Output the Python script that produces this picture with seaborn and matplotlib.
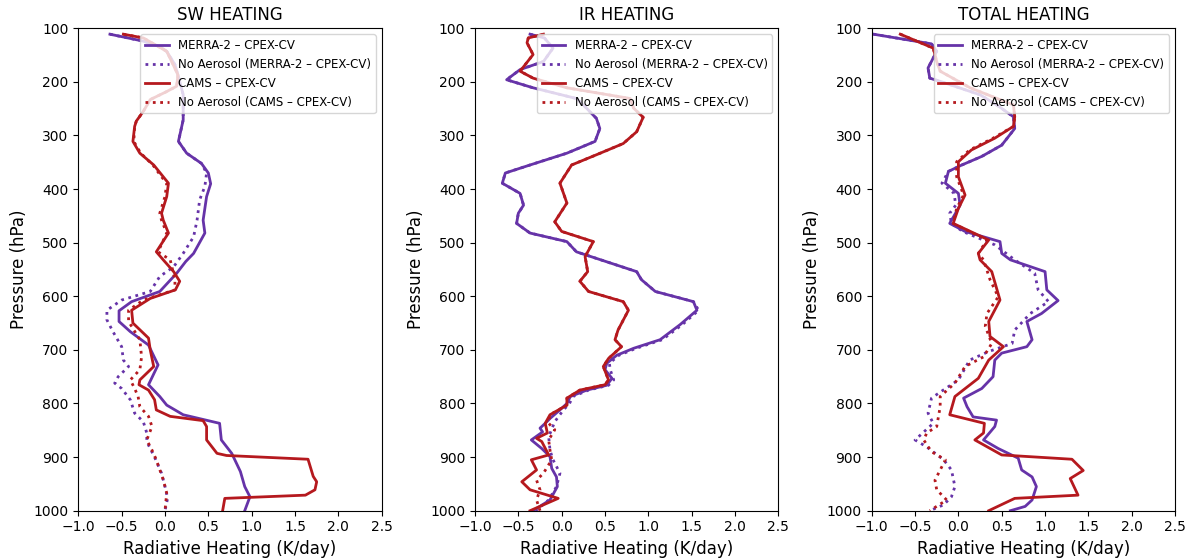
import matplotlib
matplotlib.use("Agg")
import matplotlib.pyplot as plt
import seaborn as sns
import numpy as np

# ---------------- DATA ----------------
titles = ["SW HEATING", "IR HEATING", "TOTAL HEATING"]
labels = ["MERRA-2 \u2013 CPEX-CV", "No Aerosol (MERRA-2 \u2013 CPEX-CV)",
          "CAMS \u2013 CPEX-CV", "No Aerosol (CAMS \u2013 CPEX-CV)"]
x_ticks = [-1.0, -0.5, 0.0, 0.5, 1.0, 1.5, 2.0, 2.5]
y_ticks = [100, 200, 300, 400, 500, 600, 700, 800, 900, 1000]

# SW heating
sw_merra_p = [111, 124, 134, 143, 168, 199, 224, 271, 311, 333, 352, 370, 390, 414, 458, 482, 520, 535, 557, 591,
              610, 627, 647, 666, 691, 728, 765, 787, 803, 821, 837, 868, 893, 927, 955, 974, 1000]
sw_merra_v = [-0.635, -0.25, -0.06, 0.02, 0.115, 0.17, 0.21, 0.21, 0.155, 0.25, 0.42, 0.5, 0.527, 0.48, 0.44, 0.46, 0.33, 0.24, 0.135, -0.06,
              -0.385, -0.53, -0.53, -0.40, -0.19, -0.08, -0.19, -0.06, 0.02, 0.21, 0.63, 0.65, 0.77, 0.87, 0.92, 0.98, 0.92]
sw_merra_na_p = [111, 124, 134, 143, 168, 199, 224, 271, 311, 333, 352, 370, 395, 420, 458, 489, 520, 545, 563, 591,
                 607, 626, 644, 666, 694, 719, 731, 750, 762, 772, 793, 818, 834, 855, 871, 902, 930, 955, 977, 1000]
sw_merra_na_v = [-0.635, -0.25, -0.06, 0.02, 0.115, 0.17, 0.21, 0.21, 0.155, 0.25, 0.42, 0.48, 0.46, 0.40, 0.37, 0.33, 0.21, 0.10, -0.06, -0.17,
                 -0.50, -0.67, -0.67, -0.60, -0.50, -0.48, -0.42, -0.54, -0.58, -0.50, -0.40, -0.35, -0.25, -0.21, -0.21, -0.115, -0.04, 0.0, 0.03, 0.0]
sw_cams_p = [111, 118, 143, 162, 187, 208, 218, 233, 255, 273, 283, 311, 333, 355, 377, 389, 414, 445, 458, 482,
             517, 532, 554, 572, 588, 604, 626, 650, 678, 700, 731, 756, 765, 775, 793, 812, 824, 832, 843, 868,
             893, 897, 904, 936, 946, 961, 971, 977, 1000]
sw_cams_v = [-0.48, -0.25, 0.02, 0.077, 0.15, 0.135, 0.02, -0.17, -0.25, -0.33, -0.35, -0.37, -0.29, -0.13, -0.02, 0.04, 0.02, -0.04, -0.02, 0.04,
             -0.10, -0.02, 0.10, 0.17, 0.12, -0.17, -0.385, -0.37, -0.19, -0.17, -0.13, -0.29, -0.30, -0.19, -0.12, -0.10, 0.06, 0.44, 0.48, 0.48,
             0.60, 0.71, 1.65, 1.71, 1.75, 1.73, 1.62, 0.69, 0.665]
sw_cams_na_p = [111, 118, 143, 162, 187, 208, 218, 233, 255, 273, 283, 311, 333, 355, 377, 389, 414, 445, 458, 482,
                517, 532, 569, 588, 607, 626, 647, 681, 713, 737, 756, 772, 787, 806, 824, 843, 868, 887, 905, 942, 967, 1000]
sw_cams_na_v = [-0.48, -0.25, 0.02, 0.077, 0.15, 0.135, 0.02, -0.17, -0.25, -0.33, -0.35, -0.36, -0.28, -0.14, -0.04, 0.02, 0.0, -0.06, -0.04, 0.02,
                -0.08, 0.06, 0.115, 0.115, -0.25, -0.42, -0.42, -0.29, -0.27, -0.29, -0.40, -0.35, -0.31, -0.29, -0.19, -0.15, -0.21, -0.15, -0.10, -0.02, 0.02, 0.0]

# IR heating
ir_merra_p = [111, 118, 137, 162, 177, 196, 211, 231, 243, 268, 287, 311, 333, 355, 370, 389, 408, 430, 445, 464,
              482, 498, 517, 554, 569, 591, 610, 626, 653, 681, 697, 710, 725, 737, 753, 766, 775, 787, 800, 812,
              828, 837, 846, 853, 868, 884, 899, 921, 937, 955, 980, 1000]
ir_merra_v = [-0.365, -0.2, -0.1, -0.21, -0.48, -0.635, -0.33, 0.17, 0.25, 0.40, 0.44, 0.385, 0.06, -0.365, -0.65, -0.685, -0.48, -0.44, -0.50, -0.52,
              -0.365, 0.06, 0.17, 0.865, 0.92, 1.08, 1.52, 1.56, 1.365, 1.135, 0.83, 0.635, 0.52, 0.50, 0.58, 0.52, 0.29, 0.10, 0.06, -0.02,
              -0.135, -0.19, -0.25, -0.22, -0.35, -0.23, -0.135, -0.115, -0.06, -0.05, -0.135, -0.33]
ir_merra_na_p = [111, 118, 137, 162, 177, 196, 211, 231, 243, 268, 287, 311, 333, 355, 370, 389, 408, 430, 445, 464,
                 482, 498, 517, 554, 569, 591, 610, 626, 653, 681, 697, 710, 725, 737, 756, 766, 775, 787, 800, 812,
                 834, 862, 887, 905, 930, 955, 980, 1000]
ir_merra_na_v = [-0.365, -0.2, -0.1, -0.21, -0.48, -0.635, -0.33, 0.17, 0.25, 0.40, 0.44, 0.385, 0.06, -0.365, -0.65, -0.685, -0.48, -0.44, -0.50, -0.52,
                 -0.365, 0.06, 0.17, 0.865, 0.92, 1.08, 1.52, 1.58, 1.39, 1.16, 0.86, 0.66, 0.55, 0.56, 0.60, 0.54, 0.31, 0.13, 0.09, 0.02,
                 -0.08, -0.15, -0.135, -0.10, -0.02, -0.06, -0.15, -0.30]
ir_cams_p = [111, 118, 127, 149, 180, 193, 211, 231, 249, 266, 293, 315, 336, 355, 389, 426, 461, 479, 498, 526,
             554, 572, 591, 610, 626, 663, 681, 694, 716, 731, 756, 765, 775, 790, 803, 821, 837, 855, 865, 871,
             896, 905, 924, 946, 961, 977, 1000]
ir_cams_v = [-0.21, -0.385, -0.40, -0.33, -0.48, -0.33, 0.06, 0.79, 0.83, 0.94, 0.865, 0.71, 0.40, 0.115, -0.02, 0.06, -0.08, 0.0, 0.365, 0.27,
             0.30, 0.21, 0.31, 0.71, 0.77, 0.65, 0.615, 0.69, 0.54, 0.48, 0.54, 0.50, 0.21, 0.06, 0.06, -0.135, -0.19, -0.165, -0.29, -0.23,
             -0.15, -0.35, -0.29, -0.46, -0.365, -0.04, -0.365]
ir_cams_na_p = [111, 118, 127, 149, 180, 193, 211, 231, 249, 266, 293, 315, 336, 355, 389, 426, 461, 479, 498, 526,
                554, 572, 591, 610, 626, 663, 681, 694, 716, 731, 756, 765, 775, 790, 803, 821,
                837, 849, 868, 887, 905, 930, 943, 961, 980, 1000]
ir_cams_na_v = [-0.21, -0.385, -0.40, -0.33, -0.48, -0.33, 0.06, 0.79, 0.83, 0.94, 0.865, 0.71, 0.40, 0.115, -0.02, 0.06, -0.08, 0.0, 0.365, 0.27,
                0.30, 0.21, 0.31, 0.71, 0.77, 0.65, 0.615, 0.69, 0.54, 0.48, 0.54, 0.50, 0.21, 0.06, 0.06, -0.135,
                -0.15, -0.08, -0.15, -0.135, -0.115, -0.21, -0.29, -0.25, -0.29, -0.25]

# Total heating
tot_merra_p = [111, 129, 143, 174, 193, 199, 224, 245, 265, 287, 318, 339, 355, 367, 389, 408, 430, 464, 479, 498,
               520, 532, 554, 588, 608, 632, 647, 681, 694, 706, 719, 750, 772, 790, 806, 825, 831, 843, 868, 884,
               902, 924, 937, 955, 980, 992, 1000]
tot_merra_v = [-0.98, -0.31, -0.25, -0.35, -0.33, -0.21, 0.25, 0.46, 0.635, 0.65, 0.5, 0.27, 0.04, -0.115, -0.15, 0.0, 0.02, -0.10, 0.077, 0.48,
               0.5, 0.6, 1.0, 1.02, 1.15, 0.96, 0.79, 0.85, 0.79, 0.5, 0.42, 0.40, 0.27, 0.06, 0.10, 0.17, 0.44, 0.42, 0.29, 0.46,
               0.69, 0.73, 0.85, 0.90, 0.85, 0.77, 0.6]
tot_merra_na_p = [111, 129, 143, 174, 193, 199, 224, 245, 265, 287, 318, 339, 355, 367, 389, 408, 430, 445, 464, 479,
                  504, 532, 557, 588, 610, 632, 663, 688, 703, 719, 756, 781, 790, 818, 837, 868, 881, 905, 924, 955,
                  974, 989, 1000]
tot_merra_na_v = [-0.98, -0.31, -0.25, -0.35, -0.33, -0.21, 0.25, 0.46, 0.635, 0.65, 0.5, 0.27, 0.04, -0.115, -0.19, -0.05, -0.03, -0.10, -0.08, 0.05,
                  0.42, 0.65, 0.88, 0.92, 1.04, 0.83, 0.65, 0.62, 0.35, 0.13, 0.0, -0.23, -0.31, -0.35, -0.29, -0.5, -0.365, -0.17, -0.08, -0.04,
                  -0.08, -0.17, -0.33]
tot_cams_p = [111, 137, 162, 180, 211, 243, 265, 283, 305, 327, 349, 377, 411, 436, 464, 495, 520, 532, 554, 607,
              647, 675, 694, 719, 753, 787, 821, 837, 855, 868, 896, 904, 925, 940, 971, 977, 1000]
tot_cams_v = [-0.67, -0.29, -0.25, -0.21, 0.135, 0.635, 0.65, 0.635, 0.42, 0.15, 0.0, 0.0, 0.077, 0.0, -0.06, 0.35, 0.23, 0.25, 0.385, 0.48,
              0.35, 0.365, 0.52, 0.35, 0.23, -0.04, -0.10, 0.30, 0.29, 0.19, 0.5, 1.31, 1.44, 1.29, 1.38, 0.65, 0.35]
tot_cams_na_p = [111, 137, 162, 180, 211, 243, 265, 283, 305, 327, 349, 377, 411, 436, 464, 495, 520, 532, 569, 601,
                 632, 656, 688, 713, 731, 762, 787, 806, 843, 855, 868, 890, 905, 943, 961, 980, 1000]
tot_cams_na_v = [-0.67, -0.29, -0.25, -0.21, 0.135, 0.635, 0.65, 0.635, 0.40, 0.13, -0.02, -0.02, 0.06, -0.02, -0.06, 0.33, 0.23, 0.29, 0.365, 0.46,
                 0.33, 0.31, 0.385, 0.29, 0.077, -0.04, -0.21, -0.21, -0.25, -0.365, -0.40, -0.31, -0.15, -0.27, -0.25, -0.135, -0.33]

panels = [
    [(sw_merra_v, sw_merra_p), (sw_merra_na_v, sw_merra_na_p), (sw_cams_v, sw_cams_p), (sw_cams_na_v, sw_cams_na_p)],
    [(ir_merra_v, ir_merra_p), (ir_merra_na_v, ir_merra_na_p), (ir_cams_v, ir_cams_p), (ir_cams_na_v, ir_cams_na_p)],
    [(tot_merra_v, tot_merra_p), (tot_merra_na_v, tot_merra_na_p), (tot_cams_v, tot_cams_p), (tot_cams_na_v, tot_cams_na_p)],
]

# ---------------- STYLE ----------------
colors = ["#6633a8", "#6633a8", "#b5191e", "#b5191e"]
styles = ["-", ":", "-", ":"]

fig = plt.figure(figsize=(11.94, 5.58), dpi=100)
lefts = [78.3 / 1194, 475.0 / 1194, 871.7 / 1194]
width = 303.4 / 1194
bottom = 1 - 510.7 / 558
height = (510.7 - 28.3) / 558

for i, (title, series) in enumerate(zip(titles, panels)):
    ax = fig.add_axes([lefts[i], bottom, width, height])
    for (v, p), c, ls, lab in zip(series, colors, styles, labels):
        assert len(v) == len(p)
        sns.lineplot(x=v, y=p, sort=False, estimator=None, ax=ax, color=c,
                     linestyle=ls, linewidth=2, label=lab)
    ax.set_xlim(-1.0, 2.5)
    ax.set_ylim(1000, 100)
    ax.set_xticks(x_ticks)
    ax.set_yticks(y_ticks)
    ax.tick_params(labelsize=10)
    ax.set_title(title, fontsize=12)
    ax.set_xlabel("Radiative Heating (K/day)", fontsize=12)
    ax.set_ylabel("Pressure (hPa)", fontsize=12)
    ax.legend(loc="upper right", fontsize=8.5)

fig.savefig("out.png", dpi=100)
